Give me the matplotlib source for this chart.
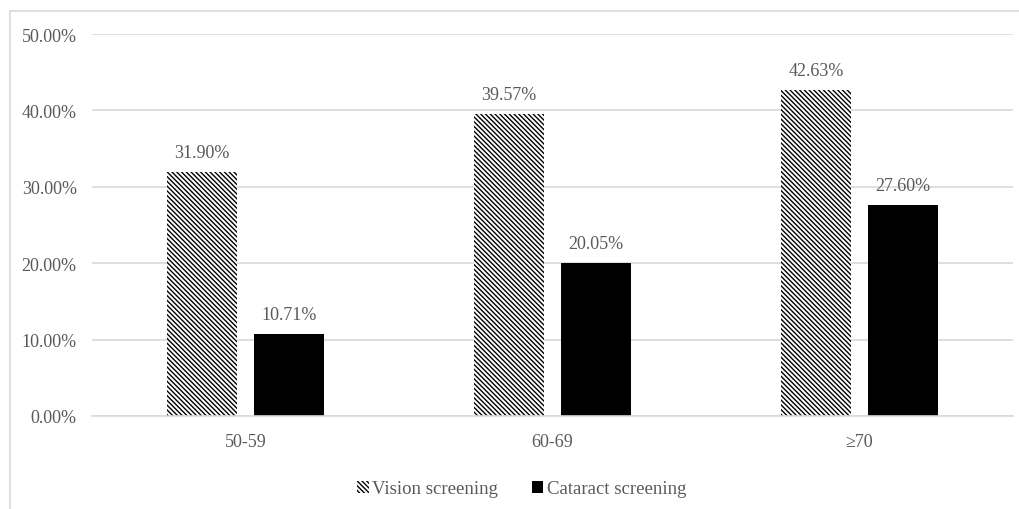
import numpy as np
import matplotlib.pyplot as plt
from matplotlib.lines import Line2D

groups = ['50-59', '60-69', '≥70']
vision = [31.90, 39.57, 42.63]
cataract = [10.71, 20.05, 27.60]
series_names = ['Vision screening', 'Cataract screening']


def main():
    plt.rcParams['font.family'] = ['Liberation Serif', 'DejaVu Serif']
    plt.rcParams['hatch.linewidth'] = 1.0
    text_col = '#595959'
    grid_col = '#d9d9d9'

    fig = plt.figure(figsize=(10.2, 5.1), dpi=100)
    ax = fig.add_axes([92 / 1020, 1 - 417 / 510, 921 / 1020, 382 / 510])

    x = np.arange(len(groups))
    w = 0.228
    off = 0.142
    b1 = ax.bar(x - off, vision, w, color='white', edgecolor='black',
                hatch='\\' * 7, linewidth=0, label=series_names[0])
    b2 = ax.bar(x + off, cataract, w, color='black', edgecolor='black',
                linewidth=0, label=series_names[1])

    for bars, vals in ((b1, vision), (b2, cataract)):
        for r, v in zip(bars, vals):
            ax.annotate(f'{v:.2f}%', (r.get_x() + r.get_width() / 2, v),
                        xytext=(0, 8), textcoords='offset points',
                        ha='center', va='bottom', fontsize=13, color=text_col)

    ax.set_xlim(-0.5, 2.5)
    ax.set_ylim(0, 50)
    ax.set_yticks(np.arange(0, 51, 10))
    ax.set_yticklabels([f'{t:.2f}%' for t in np.arange(0, 51, 10)])
    ax.set_xticks(x)
    ax.set_xticklabels(groups)
    ax.tick_params(axis='both', length=0, labelsize=13, labelcolor=text_col)
    ax.tick_params(axis='y', pad=11)
    ax.tick_params(axis='x', pad=12)
    ax.grid(axis='y', color=grid_col, linewidth=1.2)
    ax.set_axisbelow(True)
    for s in ('top', 'right', 'left'):
        ax.spines[s].set_visible(False)
    ax.spines['bottom'].set_color(grid_col)
    ax.spines['bottom'].set_linewidth(1.2)

    fig.legend(handles=[b1, b2], loc='center', bbox_to_anchor=(522 / 1020, 1 - 490 / 510),
               ncol=2, frameon=False, fontsize=13.5, labelcolor=text_col,
               handlelength=0.6, handleheight=0.6, handletextpad=0.2,
               columnspacing=1.8)

    # outer chart frame (cropped on right and bottom)
    fig.add_artist(Line2D([10 / 1020, 10 / 1020], [0, 1 - 12 / 510],
                          transform=fig.transFigure, color=grid_col, linewidth=1.2))
    fig.add_artist(Line2D([10 / 1020, 1], [1 - 12 / 510, 1 - 12 / 510],
                          transform=fig.transFigure, color=grid_col, linewidth=1.2))

    fig.savefig('out.png', dpi=100)


if __name__ == '__main__':
    main()
